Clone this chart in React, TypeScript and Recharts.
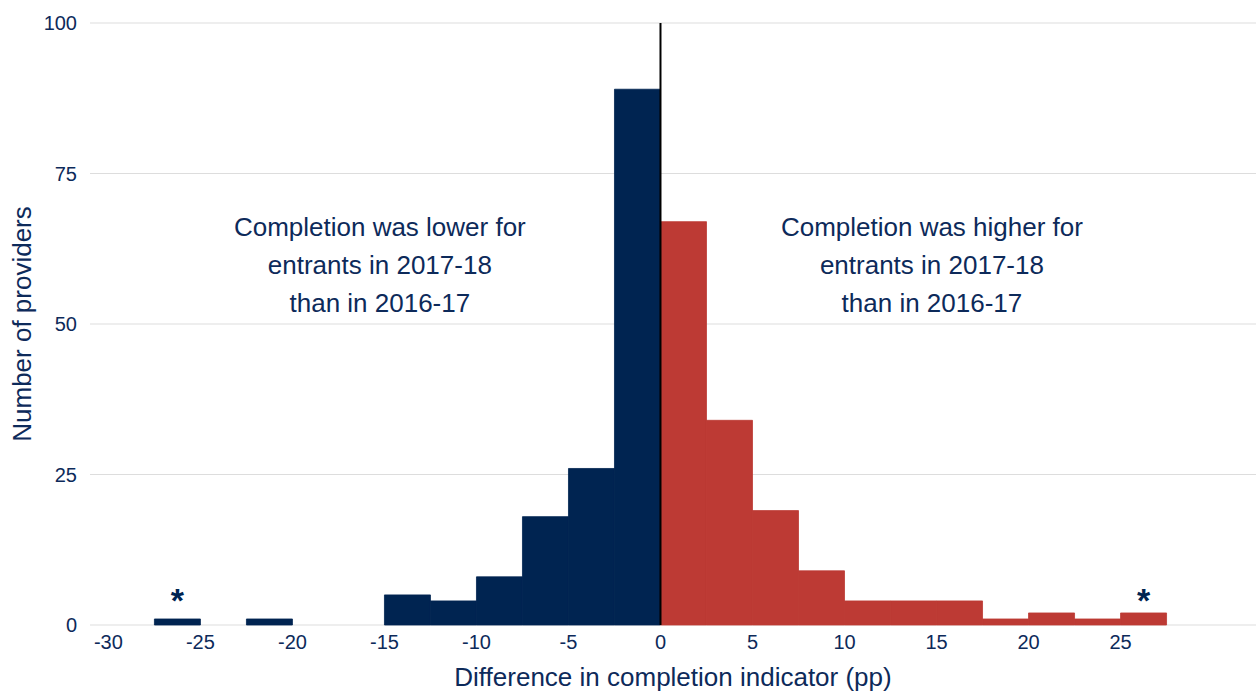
import React from 'react';
import { ComposedChart, Bar, Cell, XAxis, YAxis, CartesianGrid, ReferenceLine, ReferenceDot, Label } from 'recharts';

// Bin centres (bin width 2.5 pp)
const binCentres = [-26.25, -23.75, -21.25, -18.75, -16.25, -13.75, -11.25, -8.75, -6.25, -3.75, -1.25,
  1.25, 3.75, 6.25, 8.75, 11.25, 13.75, 16.25, 18.75, 21.25, 23.75, 26.25];
const providerCounts = [1, 0, 1, 0, 0, 5, 4, 8, 18, 26, 89,
  67, 34, 19, 9, 4, 4, 4, 1, 2, 1, 2];
const xTicks = [-30, -25, -20, -15, -10, -5, 0, 5, 10, 15, 20, 25];
const yTicks = [0, 25, 50, 75, 100];
const leftNote = ['Completion was lower for', 'entrants in 2017-18', 'than in 2016-17'];
const rightNote = ['Completion was higher for', 'entrants in 2017-18', 'than in 2016-17'];
const noteAnchors = [
  { x: -15.25, y: 64.6, lines: leftNote },
  { x: 14.75, y: 64.6, lines: rightNote },
];
const asteriskXs = [-26.25, 26.25];
const asteriskY = 1;

const NAVY = '#002451';
const RED = '#BD3A34';
const TEXT = '#0D2A5A';
const FONT = '"Liberation Sans", Arial, sans-serif';

const data = binCentres.map((x, i) => ({ x, count: providerCounts[i] }));

const NoteShape = (lines: string[]) => (props: any) => (
  <text x={props.cx} y={props.cy} textAnchor="middle" fill={TEXT} fontSize={26} fontFamily={FONT}>
    {lines.map((l, i) => (
      <tspan key={i} x={props.cx} dy={i === 0 ? 0 : 38}>{l}</tspan>
    ))}
  </text>
);

const AsteriskShape = (props: any) => (
  <text x={props.cx} y={props.cy - 7} textAnchor="middle" fill={NAVY} fontSize={34} fontWeight="bold" fontFamily={FONT}>*</text>
);

export default function App() {
  return (
    <div style={{ position: 'absolute', left: 0, top: 0, width: 1256, height: 691, background: '#fff' }}>
      <ComposedChart width={1256} height={691} data={data} margin={{ top: 23, right: 0, left: 0, bottom: 0 }} barCategoryGap={0} barGap={0}>
        <CartesianGrid vertical={false} stroke="#DDDDDD" strokeWidth={1} />
        <XAxis
          type="number"
          dataKey="x"
          domain={[-31, 32.36]}
          ticks={xTicks}
          allowDataOverflow
          axisLine={false}
          tickLine={false}
          tickSize={0}
          tickMargin={10}
          height={66}
          tick={{ fill: TEXT, fontSize: 20, fontFamily: FONT }}
        >
          <Label value="Difference in completion indicator (pp)" position="insideBottom" offset={5}
            style={{ fill: TEXT, fontSize: 26, fontFamily: FONT }} />
        </XAxis>
        <YAxis
          type="number"
          domain={[0, 100]}
          ticks={yTicks}
          axisLine={false}
          tickLine={false}
          tickSize={0}
          tickMargin={13}
          width={90}
          tick={{ fill: TEXT, fontSize: 20, fontFamily: FONT }}
        >
          <Label value="Number of providers" angle={-90} position="insideLeft" offset={22}
            style={{ fill: TEXT, fontSize: 26, fontFamily: FONT, textAnchor: 'middle' }} />
        </YAxis>
        <Bar dataKey="count" isAnimationActive={false}>
          {data.map((d, i) => {
            const c = d.x < 0 ? NAVY : RED;
            return <Cell key={i} fill={c} stroke={d.count > 0 ? c : 'none'} strokeWidth={0.8} />;
          })}
        </Bar>
        <ReferenceLine x={0} stroke="#000" strokeWidth={2} />
        {noteAnchors.map((n, i) => (
          <ReferenceDot key={'n' + i} x={n.x} y={n.y} r={0} shape={NoteShape(n.lines)} />
        ))}
        {asteriskXs.map((x, i) => (
          <ReferenceDot key={'a' + i} x={x} y={asteriskY} r={0} shape={AsteriskShape} />
        ))}
      </ComposedChart>
    </div>
  );
}
